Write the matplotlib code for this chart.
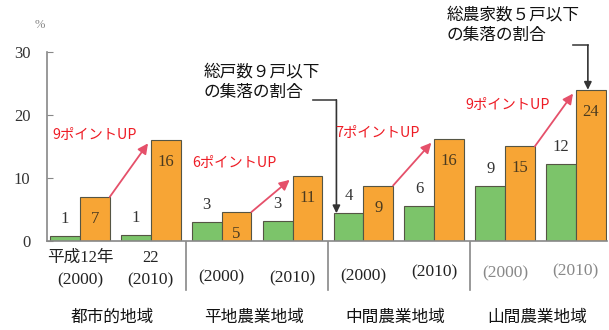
import matplotlib
matplotlib.use("Agg")
import matplotlib.pyplot as plt
from matplotlib.transforms import blended_transform_factory
from matplotlib.lines import Line2D

# ---- data ----
groups = ["都市的地域", "平地農業地域", "中間農業地域", "山間農業地域"]
years = ["(2000)", "(2010)"]
green_vals = [0.8, 1.0, 3.0, 3.2, 4.4, 5.5, 8.7, 12.2]     # 総戸数9戸以下の集落の割合
green_labels = ["1", "1", "3", "3", "4", "6", "9", "12"]
orange_vals = [7.0, 16.1, 4.6, 10.3, 8.8, 16.2, 15.0, 24.0]  # 総農家数5戸以下の集落の割合
orange_labels = ["7", "16", "5", "11", "9", "16", "15", "24"]
yticks = [0, 10, 20, 30]

GREEN = "#7cc46a"
ORANGE = "#f7a535"
RED = "#ee1c25"
SERIF = ["Liberation Serif", "Noto Sans CJK JP"]
SANS = ["Noto Sans CJK JP", "DejaVu Sans"]

W, H = 609, 330
fig = plt.figure(figsize=(W / 100, H / 100), dpi=100)
ax = fig.add_axes([47 / W, (H - 241) / H, 560 / W, (241 - 52) / H])

bw = 0.42
xs = list(range(len(green_vals)))
ax.bar([x - bw / 2 for x in xs], green_vals, width=bw, color=GREEN,
       edgecolor="#555544", linewidth=0.8, zorder=2)
ax.bar([x + bw / 2 for x in xs], orange_vals, width=bw, color=ORANGE,
       edgecolor="#555544", linewidth=0.8, zorder=2)

ax.set_xlim(-0.466, 7.44)
ax.set_ylim(0, 30)
for s in ["top", "right"]:
    ax.spines[s].set_visible(False)
ax.spines["left"].set_color("#888888")
ax.spines["bottom"].set_color("#888888")
ax.spines["left"].set_linewidth(1.2)
ax.spines["bottom"].set_linewidth(1.2)
ax.set_xticks([])
ax.set_yticks(yticks)
ax.set_yticklabels([str(t) for t in yticks], fontfamily=SERIF, fontsize=12,
                   color="#333333")
ax.tick_params(axis="y", direction="in", length=4, color="#888888", pad=12)

# data labels
for x, v, lab in zip(xs, green_vals, green_labels):
    ax.annotate(lab, (x - bw / 2, v), xytext=(0, 17), textcoords="offset pixels",
                ha="center", va="center", fontfamily=SERIF, fontsize=12,
                color="#333333", zorder=3)
for x, v, lab in zip(xs, orange_vals, orange_labels):
    ax.annotate(lab, (x + bw / 2, v), xytext=(0, -22), textcoords="offset pixels",
                ha="center", va="center", fontfamily=SERIF, fontsize=12,
                color="#4a3a20", zorder=3)

# red increase arrows and labels
red_pos = [(0.2, 16.8), (2.18, 12.4), (4.2, 17.1), (6.03, 21.6)]
for g in range(4):
    i1, i2 = 2 * g, 2 * g + 1
    x1 = i1 + bw
    y1 = orange_vals[i1]
    x2 = i2 - 0.04
    y2 = orange_vals[i2] - 0.6
    ax.annotate("", xy=(x2, y2), xytext=(x1, y1),
                arrowprops=dict(arrowstyle="-|>,head_length=0.6,head_width=0.3",
                                color="#e5506a", lw=1.3,
                                shrinkA=0, shrinkB=0), zorder=4)
    diff = int(orange_labels[i2]) - int(orange_labels[i1])
    ax.text(red_pos[g][0], red_pos[g][1], f"{diff}ポイントUP", color=RED,
            fontfamily=SANS, fontsize=10.3, ha="center", va="center", zorder=5)

# x labels
tr = blended_transform_factory(ax.transData, fig.transFigure)
def fy(px):
    return 1 - px / H

year_y = [258, 280, 277, 278, 276, 272, 273, 271]
ax.text(0, fy(258), "平成12年", transform=tr, ha="center", va="center",
        fontfamily=SERIF, fontsize=12, color="#222222")
ax.text(0, fy(280), years[0], transform=tr, ha="center", va="center",
        fontfamily=SERIF, fontsize=12.5, color="#222222")
ax.text(1, fy(258), "22", transform=tr, ha="center", va="center",
        fontfamily=SERIF, fontsize=12, color="#222222")
ax.text(1, fy(280), years[1], transform=tr, ha="center", va="center",
        fontfamily=SERIF, fontsize=12.5, color="#222222")
for i in range(2, 8):
    col = "#888888" if i >= 6 else "#222222"
    ax.text(i, fy(year_y[i]), years[i % 2], transform=tr, ha="center",
            va="center", fontfamily=SERIF, fontsize=12.5, color=col)

for g, name in enumerate(groups):
    ax.text(2 * g + 0.45, fy(317), name, transform=tr, ha="center", va="center",
            fontfamily=SANS, fontsize=12, color="#111111")

# separators
for sx in [1.5, 3.5, 5.5]:
    fig.add_artist(Line2D([sx, sx], [fy(242), fy(290)], transform=tr,
                          color="#888888", lw=1.2))

# % unit
fig.text(40 / W, fy(25), "%", ha="center", va="center", fontsize=9,
         color="#888888", fontfamily=SERIF)

# callout 1: green bar (中間 2000)
fig.text(204 / W, fy(82), "総戸数９戸以下\nの集落の割合", ha="left", va="center",
         fontfamily=SANS, fontsize=12, color="#111111", linespacing=1.25)
cx = 4 - bw + 0.04
ax.plot([3.29, cx], [22.4, 22.4], color="#444444", lw=1.2, clip_on=False)
ax.annotate("", xy=(cx, green_vals[4]), xytext=(cx, 22.4),
            arrowprops=dict(arrowstyle="-|>,head_length=0.45,head_width=0.22",
                            color="#333333", lw=1.2, shrinkA=0, shrinkB=0),
            annotation_clip=False)

# callout 2: orange bar (山間 2010)
fig.text(447 / W, fy(25), "総農家数５戸以下\nの集落の割合", ha="left", va="center",
         fontfamily=SANS, fontsize=12, color="#111111", linespacing=1.25)
cx2 = 7.17
ax.plot([6.96, cx2], [31.1, 31.1], color="#444444", lw=1.2, clip_on=False)
ax.annotate("", xy=(cx2, orange_vals[7]), xytext=(cx2, 31.1),
            arrowprops=dict(arrowstyle="-|>,head_length=0.45,head_width=0.22",
                            color="#333333", lw=1.2, shrinkA=0, shrinkB=0),
            annotation_clip=False)

fig.savefig("out.png", dpi=100)
